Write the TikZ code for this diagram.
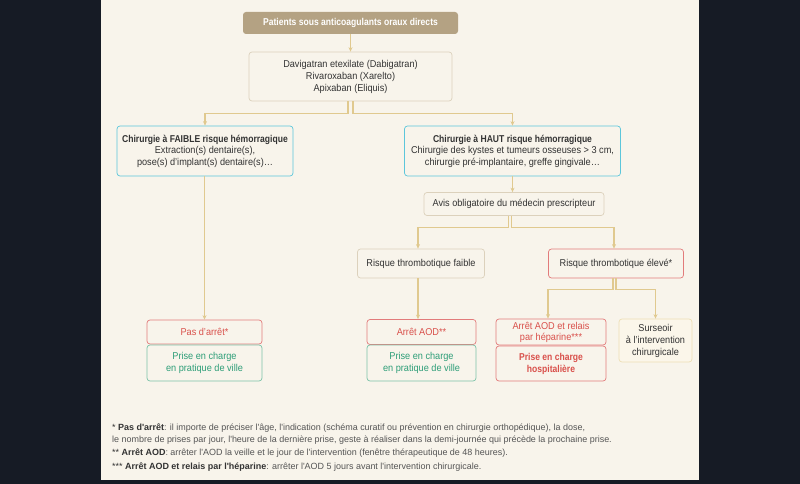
\documentclass[tikz,border=0pt]{standalone}
\usepackage{fontspec}
\setmainfont{Liberation Sans}[FakeStretch=0.92]
\newfontfamily\hb{Liberation Sans}[FakeStretch=0.86]
\newfontfamily\notefont{Liberation Sans}
\usetikzlibrary{arrows.meta}
\definecolor{outer}{HTML}{161B25}
\definecolor{panel}{HTML}{F8F4EB}
\definecolor{tanfill}{HTML}{B4A283}
\definecolor{tanline}{HTML}{DCD1BC}
\definecolor{arrowc}{HTML}{E0C98F}
\definecolor{cyanline}{HTML}{5CC6DB}
\definecolor{redline}{HTML}{E27B7B}
\definecolor{redtxt}{HTML}{D9504B}
\definecolor{greenline}{HTML}{7CC3A8}
\definecolor{greentxt}{HTML}{2E9E78}
\definecolor{creamline}{HTML}{EDDFB5}
\definecolor{creamfill}{HTML}{FBF6EA}
\definecolor{txt}{HTML}{333333}
\definecolor{notetxt}{HTML}{555555}
\newcommand{\hbold}[1]{{\hb\bfseries #1}}
\tikzset{
  box/.style={draw=tanline,line width=0.7bp,rounded corners=3bp,fill=panel,
    align=center,inner sep=1bp,text=txt,font=\fontsize{10}{12}\selectfont},
  topbox/.style={box,draw=none,fill=tanfill,text=white,
    font=\fontsize{10}{12}\selectfont\hb\bfseries},
  surgbox/.style={box,draw=cyanline,fill=panel,font=\fontsize{10}{11.6}\selectfont},
  redbox/.style={box,draw=redline,text=redtxt},
  greenbox/.style={box,draw=greenline,text=greentxt},
  creambox/.style={box,draw=creamline,fill=creamfill},
  arr/.style={draw=arrowc,line width=1.1bp,-{Stealth[length=4.5bp,width=4bp]}},
  note/.style={anchor=base west,inner sep=0pt,text=notetxt,
    font=\fontsize{9}{10}\selectfont\notefont}
}
\begin{document}
\begin{tikzpicture}[x=1bp,y=-1bp]
  \useasboundingbox (0,0) rectangle (800,484);
  \fill[outer] (0,0) rectangle (800,484);
  \fill[panel] (101,0) rectangle (699,480);

  % boxes
  \node[topbox,minimum width=215bp,minimum height=22bp] (patients) at (350.5,23)
    {Patients sous anticoagulants oraux directs};
  \node[box,minimum width=203bp,minimum height=49bp] (drugs) at (350.5,76.5)
    {Davigatran etexilate (Dabigatran)\\Rivaroxaban (Xarelto)\\Apixaban (Eliquis)};
  \node[surgbox,minimum width=176bp,minimum height=50bp] (faible) at (205,151)
    {\hbold{Chirurgie à FAIBLE risque hémorragique}\\Extraction(s) dentaire(s),\\pose(s) d'implant(s) dentaire(s)\ldots};
  \node[surgbox,minimum width=216bp,minimum height=50bp] (haut) at (512.5,151)
    {\hbold{Chirurgie à HAUT risque hémorragique}\\Chirurgie des kystes et tumeurs osseuses > 3 cm,\\chirurgie pré-implantaire, greffe gingivale\ldots};
  \node[box,minimum width=180bp,minimum height=23bp] (avis) at (514,204)
    {Avis obligatoire du médecin prescripteur};
  \node[box,minimum width=127bp,minimum height=29bp] (rfaible) at (421,263.5)
    {Risque thrombotique faible};
  \node[redbox,text=txt,minimum width=135bp,minimum height=29bp] (releve) at (616,263.5)
    {Risque thrombotique élevé*};

  \node[redbox,minimum width=115bp,minimum height=24bp] (pas) at (204.5,332)
    {Pas d'arrêt*};
  \node[greenbox,minimum width=115bp,minimum height=36bp] (ville1) at (204.5,363)
    {Prise en charge\\en pratique de ville};
  \node[redbox,minimum width=109bp,minimum height=25bp] (aod) at (421.5,332)
    {Arrêt AOD**};
  \node[greenbox,minimum width=109bp,minimum height=36bp] (ville2) at (421.5,363)
    {Prise en charge\\en pratique de ville};
  \node[redbox,minimum width=110bp,minimum height=26bp,
    font=\fontsize{10}{11}\selectfont] (relais) at (551,332)
    {Arrêt AOD et relais\\par héparine***};
  \node[redbox,minimum width=110bp,minimum height=35bp,
    font=\fontsize{10}{12}\selectfont\hb\bfseries] (hosp) at (551,363.5)
    {Prise en charge\\hospitalière};
  \node[creambox,minimum width=73bp,minimum height=43bp] (surseoir) at (655.5,340.5)
    {Surseoir\\à l'intervention\\chirurgicale};

  % connectors
  \draw[arr] (patients) -- (drugs);
  \draw[arr] ([xshift=-2.5bp]drugs.south) -- ++(0,12) -| (faible.north);
  \draw[arr] ([xshift=2.5bp]drugs.south) -- ++(0,12) -| (haut.north);
  \draw[arr] (haut.south) -- (haut.south |- avis.north);
  \draw[arr] ([xshift=-5.5bp]avis.south) -- ++(0,12) -| ([xshift=-3bp]rfaible.north);
  \draw[arr] ([xshift=-2.5bp]avis.south) -- ++(0,12) -| ([xshift=-2bp]releve.north);
  \draw[arr] (faible.south -| pas.north) -- (pas.north);
  \draw[arr] ([xshift=-3bp]rfaible.south) -- ([xshift=-3bp]rfaible.south |- aod.north);
  \draw[arr] ([xshift=-3bp]releve.south) -- ++(0,11.5) -| ([xshift=-3bp]relais.north);
  \draw[arr] (releve.south) -- ++(0,11.5) -| (surseoir.north);

  % notes
  \node[note] (n1) at (112,430) {\textcolor{txt}{* \textbf{Pas d'arrêt}}: il importe de préciser l'âge, l'indication (schéma curatif ou prévention en chirurgie orthopédique), la dose,};
  \node[note] (n2) at (112,442.5) {le nombre de prises par jour, l'heure de la dernière prise, geste à réaliser dans la demi-journée qui précède la prochaine prise.};
  \node[note] (n3) at (112,455.5) {\textcolor{txt}{** \textbf{Arrêt AOD}}: arrêter l'AOD la veille et le jour de l'intervention (fenêtre thérapeutique de 48 heures).};
  \node[note] (n4) at (112,469) {\textcolor{txt}{*** \textbf{Arrêt AOD et relais par l'héparine}}: arrêter l'AOD 5 jours avant l'intervention chirurgicale.};
\end{tikzpicture}
\end{document}
